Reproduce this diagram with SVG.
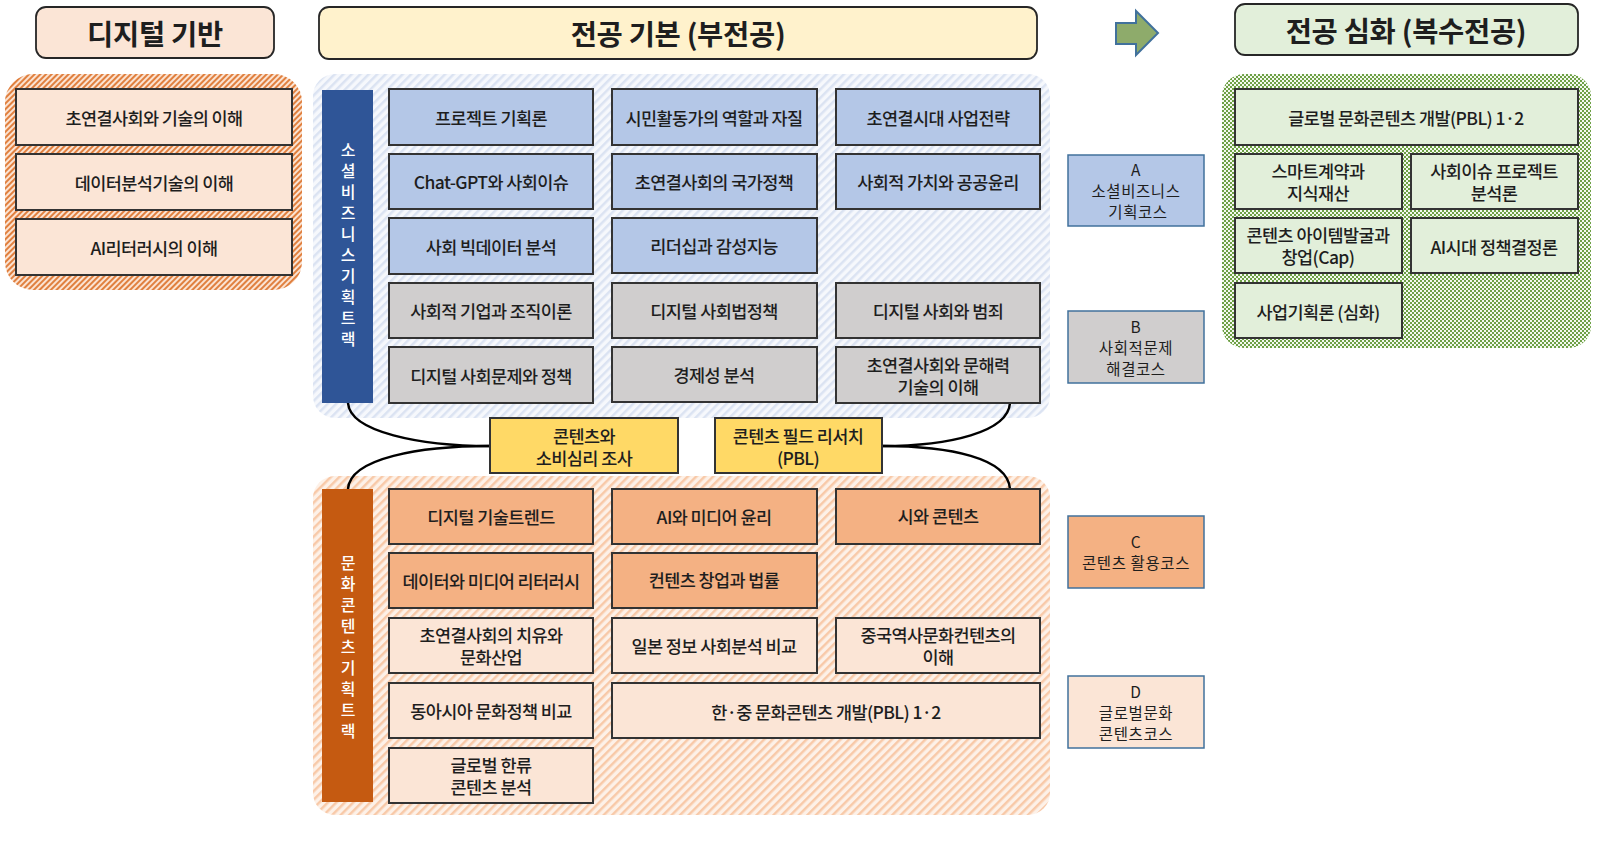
<svg xmlns="http://www.w3.org/2000/svg" width="1598" height="846" viewBox="0 0 1598 846">
<defs>
<pattern id="hOrange" patternUnits="userSpaceOnUse" width="4" height="4" patternTransform="rotate(45)">
<rect width="4" height="4" fill="#fbe3d2"/><rect width="2" height="4" fill="#e0803f"/>
</pattern>
<pattern id="hBlue" patternUnits="userSpaceOnUse" width="6" height="6" patternTransform="rotate(45)">
<rect width="6" height="6" fill="#f6f8fc"/><rect width="2.5" height="6" fill="#dbe3f2"/>
</pattern>
<pattern id="hPeach" patternUnits="userSpaceOnUse" width="6" height="6" patternTransform="rotate(45)">
<rect width="6" height="6" fill="#fdf1e8"/><rect width="2.5" height="6" fill="#f8c9a8"/>
</pattern>
<pattern id="hGreen" patternUnits="userSpaceOnUse" width="4" height="4">
<rect width="4" height="4" fill="#f4f9ef"/><rect width="2" height="2" fill="#6ea046"/><rect x="2" y="2" width="2" height="2" fill="#6ea046"/>
</pattern>
</defs>
<style>
text{font-family:"Noto Sans CJK KR","Noto Sans",sans-serif;fill:#1e1e1e;text-anchor:middle;dominant-baseline:central}
.t{font-size:17.5px;font-weight:500;letter-spacing:-0.6px}
.h{font-size:28.5px;font-weight:700;letter-spacing:-0.3px}
.v{font-size:16px;fill:#fff;font-weight:500}
.c{font-size:15.5px;font-weight:400;letter-spacing:0.6px}
.b{stroke:#333;stroke-width:2}
.blue{fill:#b4c7e7}.gray{fill:#d0cece}.peach{fill:#fbe5d6}.orng{fill:#f4b183}.yel{fill:#ffd966}.grn{fill:#e2efda}
.cb{stroke:#41719c;stroke-width:1.5}
.con{fill:none;stroke:#000;stroke-width:2.5}
</style>
<rect width="1598" height="846" fill="#fff"/>

<!-- backgrounds -->
<g id="areas">
<rect x="5" y="74" width="297" height="216" rx="28" fill="url(#hOrange)"/>
<rect x="313" y="74" width="737" height="344" rx="22" fill="url(#hBlue)"/>
<rect x="313" y="476" width="737" height="339" rx="22" fill="url(#hPeach)"/>
<rect x="1222" y="74" width="369" height="274" rx="22" fill="url(#hGreen)"/>
</g>

<!-- titles -->
<g id="title-digital"><rect x="36" y="7" width="238" height="51" rx="10" class="peach" stroke="#262626" stroke-width="1.8"/><text x="155" y="32" class="h">디지털 기반</text></g>
<g id="title-basic"><rect x="319" y="7" width="718" height="52" rx="10" fill="#fff2cc" stroke="#262626" stroke-width="1.8"/><text x="678" y="32" class="h">전공 기본 (부전공)</text></g>
<g id="title-adv"><rect x="1235" y="4" width="343" height="51" rx="10" class="grn" stroke="#262626" stroke-width="1.8"/><text x="1406" y="29" class="h">전공 심화 (복수전공)</text></g>
<g id="arrow"><path d="M1116,23 H1136 V11 L1158,33 L1136,55 V44 H1116 Z" fill="#8eab6b" stroke="#41719c" stroke-width="2"/></g>

<!-- left column -->
<g id="d1"><rect x="16" y="89" width="276" height="56" class="peach b"/><text x="154" y="117" class="t">초연결사회와 기술의 이해</text></g>
<g id="d2"><rect x="16" y="154" width="276" height="56" class="peach b"/><text x="154" y="182" class="t">데이터분석기술의 이해</text></g>
<g id="d3"><rect x="16" y="219" width="276" height="56" class="peach b"/><text x="154" y="247" class="t">AI리터러시의 이해</text></g>

<!-- connectors -->
<g id="connectors">
<path class="con" d="M348,403 C350,432 420,446 490,446"/>
<path class="con" d="M490,446 C420,446 350,458 348,489"/>
<path class="con" d="M1010,403 C1008,432 950,446 882,446"/>
<path class="con" d="M882,446 C950,446 1008,458 1010,489"/>
</g>

<!-- social business track -->
<g id="track-social"><rect x="322" y="90" width="51" height="313" fill="#2f5597"/>
<text class="v"><tspan x="348" y="149">소</tspan><tspan x="348" y="170">셜</tspan><tspan x="348" y="191">비</tspan><tspan x="348" y="212">즈</tspan><tspan x="348" y="233">니</tspan><tspan x="348" y="254">스</tspan><tspan x="348" y="275">기</tspan><tspan x="348" y="296">획</tspan><tspan x="348" y="317">트</tspan><tspan x="348" y="338">랙</tspan></text></g>
<g id="s11"><rect x="389" y="89" width="204" height="56" class="blue b"/><text x="491" y="117" class="t">프로젝트 기획론</text></g>
<g id="s12"><rect x="612" y="89" width="205" height="56" class="blue b"/><text x="714" y="117" class="t">시민활동가의 역할과 자질</text></g>
<g id="s13"><rect x="836" y="89" width="204" height="56" class="blue b"/><text x="938" y="117" class="t">초연결시대 사업전략</text></g>
<g id="s21"><rect x="389" y="154" width="204" height="55" class="blue b"/><text x="491" y="181" class="t">Chat-GPT와 사회이슈</text></g>
<g id="s22"><rect x="612" y="154" width="205" height="55" class="blue b"/><text x="714" y="181" class="t">초연결사회의 국가정책</text></g>
<g id="s23"><rect x="836" y="154" width="204" height="55" class="blue b"/><text x="938" y="181" class="t">사회적 가치와 공공윤리</text></g>
<g id="s31"><rect x="389" y="218" width="204" height="56" class="blue b"/><text x="491" y="246" class="t">사회 빅데이터 분석</text></g>
<g id="s32"><rect x="612" y="218" width="205" height="55" class="blue b"/><text x="714" y="245" class="t">리더십과 감성지능</text></g>
<g id="s41"><rect x="389" y="283" width="204" height="55" class="gray b"/><text x="491" y="310" class="t">사회적 기업과 조직이론</text></g>
<g id="s42"><rect x="612" y="283" width="205" height="55" class="gray b"/><text x="714" y="310" class="t">디지털 사회법정책</text></g>
<g id="s43"><rect x="836" y="283" width="204" height="55" class="gray b"/><text x="938" y="310" class="t">디지털 사회와 범죄</text></g>
<g id="s51"><rect x="389" y="347" width="204" height="56" class="gray b"/><text x="491" y="375" class="t">디지털 사회문제와 정책</text></g>
<g id="s52"><rect x="612" y="347" width="205" height="55" class="gray b"/><text x="714" y="374" class="t">경제성 분석</text></g>
<g id="s53"><rect x="836" y="347" width="204" height="56" class="gray b"/><text class="t"><tspan x="938" y="364">초연결사회와 문해력</tspan><tspan x="938" y="386">기술의 이해</tspan></text></g>

<!-- yellow bridge -->
<g id="y1"><rect x="490" y="418" width="188" height="55" class="yel b"/><text class="t"><tspan x="584" y="435">콘텐츠와</tspan><tspan x="584" y="457">소비심리 조사</tspan></text></g>
<g id="y2"><rect x="715" y="418" width="167" height="55" class="yel b"/><text class="t"><tspan x="798" y="435">콘텐츠 필드 리서치</tspan><tspan x="798" y="457">(PBL)</tspan></text></g>

<!-- culture content track -->
<g id="track-culture"><rect x="322" y="489" width="51" height="313" fill="#c55a11"/>
<text class="v"><tspan x="348" y="562">문</tspan><tspan x="348" y="583">화</tspan><tspan x="348" y="604">콘</tspan><tspan x="348" y="625">텐</tspan><tspan x="348" y="646">츠</tspan><tspan x="348" y="667">기</tspan><tspan x="348" y="688">획</tspan><tspan x="348" y="709">트</tspan><tspan x="348" y="730">랙</tspan></text></g>
<g id="c11"><rect x="389" y="489" width="204" height="55" class="orng b"/><text x="491" y="516" class="t">디지털 기술트렌드</text></g>
<g id="c12"><rect x="612" y="489" width="205" height="55" class="orng b"/><text x="714" y="516" class="t">AI와 미디어 윤리</text></g>
<g id="c13"><rect x="836" y="489" width="204" height="55" class="orng b"/><text x="938" y="515" class="t">시와 콘텐츠</text></g>
<g id="c21"><rect x="389" y="553" width="204" height="55" class="orng b"/><text x="491" y="580" class="t">데이터와 미디어 리터러시</text></g>
<g id="c22"><rect x="612" y="553" width="205" height="55" class="orng b"/><text x="714" y="579" class="t">컨텐츠 창업과 법률</text></g>
<g id="c31"><rect x="389" y="618" width="204" height="55" class="peach b"/><text class="t"><tspan x="491" y="634">초연결사회의 치유와</tspan><tspan x="491" y="656">문화산업</tspan></text></g>
<g id="c32"><rect x="612" y="618" width="205" height="55" class="peach b"/><text x="714" y="645" class="t">일본 정보 사회분석 비교</text></g>
<g id="c33"><rect x="836" y="618" width="204" height="55" class="peach b"/><text class="t"><tspan x="938" y="634">중국역사문화컨텐츠의</tspan><tspan x="938" y="656">이해</tspan></text></g>
<g id="c41"><rect x="389" y="683" width="204" height="55" class="peach b"/><text x="491" y="710" class="t">동아시아 문화정책 비교</text></g>
<g id="c42"><rect x="612" y="683" width="428" height="55" class="peach b"/><text x="826" y="711" class="t">한·중 문화콘텐츠 개발(PBL) 1·2</text></g>
<g id="c51"><rect x="389" y="748" width="204" height="55" class="peach b"/><text class="t"><tspan x="491" y="764">글로벌 한류</tspan><tspan x="491" y="786">콘텐츠 분석</tspan></text></g>

<!-- course legend -->
<g id="courseA"><rect x="1068" y="155" width="136" height="71" class="blue cb"/><text class="c"><tspan x="1136" y="169">A</tspan><tspan x="1136" y="190">소셜비즈니스</tspan><tspan x="1138" y="211">기획코스</tspan></text></g>
<g id="courseB"><rect x="1068" y="311" width="136" height="72" class="gray cb"/><text class="c"><tspan x="1136" y="326">B</tspan><tspan x="1136" y="347">사회적문제</tspan><tspan x="1136" y="368">해결코스</tspan></text></g>
<g id="courseC"><rect x="1068" y="516" width="136" height="72" class="orng cb"/><text class="c"><tspan x="1136" y="541">C</tspan><tspan x="1136" y="562">콘텐츠 활용코스</tspan></text></g>
<g id="courseD"><rect x="1068" y="676" width="136" height="72" class="peach cb"/><text class="c"><tspan x="1136" y="691">D</tspan><tspan x="1136" y="712">글로벌문화</tspan><tspan x="1136" y="733">콘텐츠코스</tspan></text></g>

<!-- advanced -->
<g id="a1"><rect x="1235" y="89" width="343" height="56" class="grn b"/><text x="1406" y="117" class="t">글로벌 문화콘텐츠 개발(PBL) 1·2</text></g>
<g id="a21"><rect x="1235" y="154" width="167" height="55" class="grn b"/><text class="t"><tspan x="1318" y="170">스마트계약과</tspan><tspan x="1318" y="192">지식재산</tspan></text></g>
<g id="a22"><rect x="1411" y="154" width="167" height="55" class="grn b"/><text class="t"><tspan x="1494" y="170">사회이슈 프로젝트</tspan><tspan x="1494" y="192">분석론</tspan></text></g>
<g id="a31"><rect x="1235" y="218" width="167" height="55" class="grn b"/><text class="t"><tspan x="1318" y="234">콘텐츠 아이템발굴과</tspan><tspan x="1318" y="256">창업(Cap)</tspan></text></g>
<g id="a32"><rect x="1411" y="218" width="167" height="55" class="grn b"/><text x="1494" y="246" class="t">AI시대 정책결정론</text></g>
<g id="a41"><rect x="1235" y="283" width="167" height="55" class="grn b"/><text x="1318" y="311" class="t">사업기획론 (심화)</text></g>
</svg>
